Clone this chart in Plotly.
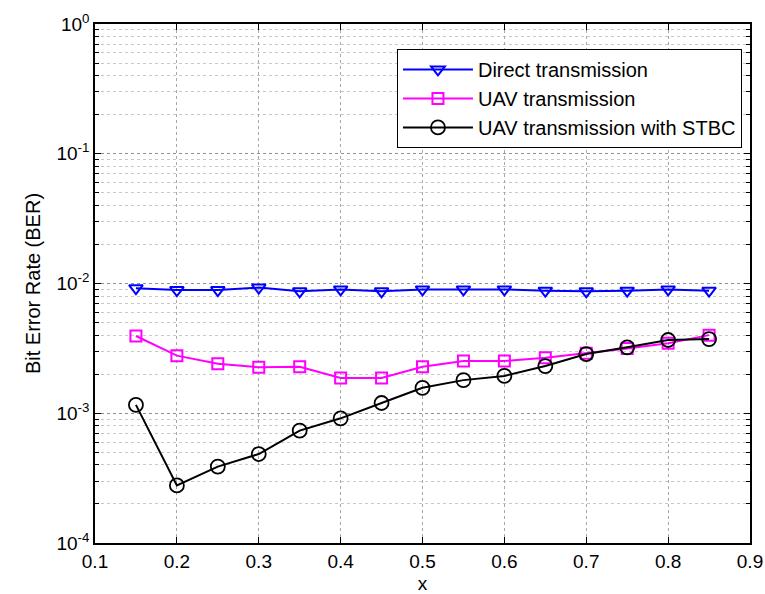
import plotly.graph_objects as go

x_vals = [0.15, 0.2, 0.25, 0.3, 0.35, 0.4, 0.45, 0.5, 0.55, 0.6, 0.65, 0.7, 0.75, 0.8, 0.85]
direct = [0.0092, 0.0089, 0.0089, 0.0093, 0.0087, 0.0090, 0.0087, 0.0090, 0.0090, 0.0090, 0.0088, 0.0087, 0.0088, 0.0090, 0.0088]
uav = [0.00394, 0.00278, 0.00241, 0.00226, 0.00228, 0.00187, 0.00187, 0.00228, 0.00253, 0.00253, 0.00268, 0.00290, 0.00316, 0.00346, 0.00400]
stbc = [0.00116, 0.000278, 0.000388, 0.000485, 0.000735, 0.000914, 0.00120, 0.00157, 0.00180, 0.00194, 0.00231, 0.00286, 0.00322, 0.00367, 0.00373]

series_names = ["Direct transmission", "UAV transmission", "UAV transmission with STBC"]
x_ticks = [0.1, 0.2, 0.3, 0.4, 0.5, 0.6, 0.7, 0.8, 0.9]
y_ticks = [1e-4, 1e-3, 1e-2, 1e-1, 1]
y_ticktext = ["10<sup>-4</sup>", "10<sup>-3</sup>", "10<sup>-2</sup>", "10<sup>-1</sup>", "10<sup>0</sup>"]

fig = go.Figure()
fig.add_trace(go.Scatter(x=x_vals, y=direct, name=series_names[0], mode="lines+markers",
                         line=dict(color="#0000ff", width=2),
                         marker=dict(symbol="triangle-down-open", size=12, color="#0000ff", line=dict(width=2))))
fig.add_trace(go.Scatter(x=x_vals, y=uav, name=series_names[1], mode="lines+markers",
                         line=dict(color="#ff00ff", width=2),
                         marker=dict(symbol="square-open", size=11, color="#ff00ff", line=dict(width=2))))
fig.add_trace(go.Scatter(x=x_vals, y=stbc, name=series_names[2], mode="lines+markers",
                         line=dict(color="#000000", width=2),
                         marker=dict(symbol="circle-open", size=14, color="#000000", line=dict(width=1.8))))

font_family = "Liberation Sans, Arial, sans-serif"
fig.update_layout(
    width=765, height=594,
    margin=dict(l=95, r=15, t=24, b=51),
    paper_bgcolor="white", plot_bgcolor="white",
    font=dict(family=font_family, color="black", size=18),
    legend=dict(x=0.461, y=0.952, xanchor="left", yanchor="top",
                bordercolor="black", borderwidth=1, bgcolor="white",
                font=dict(size=20), tracegroupgap=0, itemwidth=70),
    xaxis=dict(range=[0.1, 0.9], tickvals=x_ticks, ticktext=[f"{v:.1f}" for v in x_ticks],
               showline=True, linecolor="black", linewidth=1.5, mirror="ticks",
               ticks="inside", ticklen=6, tickcolor="black",
               showgrid=True, gridcolor="#a8a8a8", griddash="dot", gridwidth=1,
               zeroline=False, automargin=False,
               title=dict(text="x", font=dict(size=19), standoff=6),
               tickfont=dict(size=19)),
    yaxis=dict(type="log", range=[-4, 0], tickvals=y_ticks, ticktext=y_ticktext,
               showline=True, linecolor="black", linewidth=1.5, mirror="ticks",
               ticks="inside", ticklen=6, tickcolor="black",
               showgrid=True, gridcolor="#909090", griddash="dot", gridwidth=1,
               minor=dict(dtick="D1", ticks="inside", ticklen=4, tickcolor="black",
                          showgrid=True, gridcolor="#c8c8c8", griddash="dot", gridwidth=1),
               zeroline=False, automargin=False,
               title=dict(text="Bit Error Rate (BER)", font=dict(size=20), standoff=10),
               tickfont=dict(size=19)),
)

fig.write_html("out.html", config={"displayModeBar": False},
               post_script="document.body.style.margin='0';document.body.style.overflow='hidden';")
